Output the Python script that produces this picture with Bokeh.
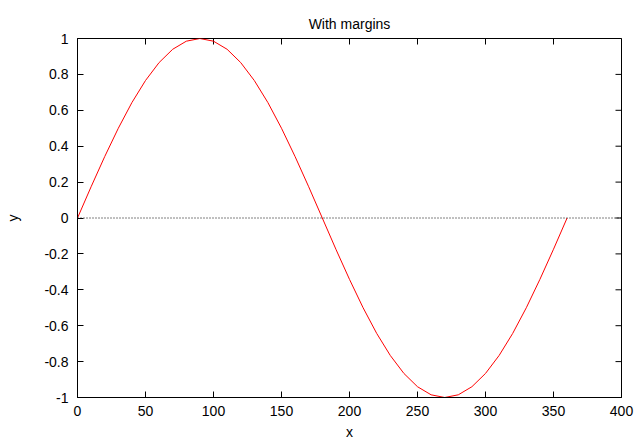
import math
from bokeh.plotting import figure
from bokeh.models import FixedTicker, Span, Range1d
from bokeh.embed import file_html
from bokeh.resources import INLINE

x_vals = [0, 10, 20, 30, 40, 50, 60, 70, 80, 90, 100, 110, 120, 130, 140, 150, 160, 170, 180,
          190, 200, 210, 220, 230, 240, 250, 260, 270, 280, 290, 300, 310, 320, 330, 340, 350, 360]
y_vals = [0.0, 0.174, 0.342, 0.5, 0.643, 0.766, 0.866, 0.94, 0.985, 1.0, 0.985, 0.94, 0.866,
          0.766, 0.643, 0.5, 0.342, 0.174, 0.0, -0.174, -0.342, -0.5, -0.643, -0.766, -0.866,
          -0.94, -0.985, -1.0, -0.985, -0.94, -0.866, -0.766, -0.643, -0.5, -0.342, -0.174, 0.0]

x_ticks = [0, 50, 100, 150, 200, 250, 300, 350, 400]
x_tick_labels = ["0", "50", "100", "150", "200", "250", "300", "350", "400"]
y_ticks = [-1, -0.8, -0.6, -0.4, -0.2, 0, 0.2, 0.4, 0.6, 0.8, 1]
y_tick_labels = ["-1", "-0.8", "-0.6", "-0.4", "-0.2", "0", "0.2", "0.4", "0.6", "0.8", "1"]

FONT = "Liberation Sans"
FS = "14px"

p = figure(width=634, height=442, output_backend="svg", toolbar_location=None,
           x_range=Range1d(0, 400), y_range=Range1d(-1, 1),
           title="With margins", x_axis_label="x", y_axis_label="y",
           min_border_left=77, min_border_right=13, min_border_top=38, min_border_bottom=45)
p.frame_width = 544
p.frame_height = 359

p.title.align = "center"
p.title.text_font = FONT
p.title.text_font_size = FS
p.title.text_font_style = "normal"
p.title.text_color = "black"
p.title.standoff = 14

p.grid.visible = False
p.outline_line_color = "black"
p.outline_line_width = 1
p.background_fill_color = "white"
p.border_fill_color = "white"

for ax, ticks, labels in ((p.xaxis[0], x_ticks, x_tick_labels), (p.yaxis[0], y_ticks, y_tick_labels)):
    ax.ticker = FixedTicker(ticks=ticks)
    ax.major_label_overrides = {t: l for t, l in zip(ticks, labels)}
    ax.major_tick_in = 6
    ax.major_tick_out = 0
    ax.minor_tick_line_color = None
    ax.axis_line_color = "black"
    ax.major_tick_line_color = "black"
    ax.major_label_text_font = FONT
    ax.major_label_text_font_size = FS
    ax.major_label_text_color = "black"
    ax.axis_label_text_font = FONT
    ax.axis_label_text_font_size = FS
    ax.axis_label_text_font_style = "normal"
    ax.axis_label_text_color = "black"

p.xaxis[0].major_label_standoff = 8
p.xaxis[0].axis_label_standoff = 5
p.yaxis[0].major_label_standoff = 9
p.yaxis[0].axis_label_standoff = 20

# mirrored inward ticks on top and right borders (half of each dash is clipped by the frame)
p.scatter(x_ticks, [y_ticks[-1]] * len(x_ticks), marker="dash", angle=math.pi / 2,
          size=12, line_color="black", line_width=1)
p.scatter([x_ticks[-1]] * len(y_ticks), y_ticks, marker="dash",
          size=12, line_color="black", line_width=1)

p.add_layout(Span(location=0, dimension="width", line_color="black", line_width=1, line_dash="1 2"))

p.line(x_vals, y_vals, line_color="#ff0000", line_width=1)

open("out.html", "w").write(file_html(p, INLINE))
